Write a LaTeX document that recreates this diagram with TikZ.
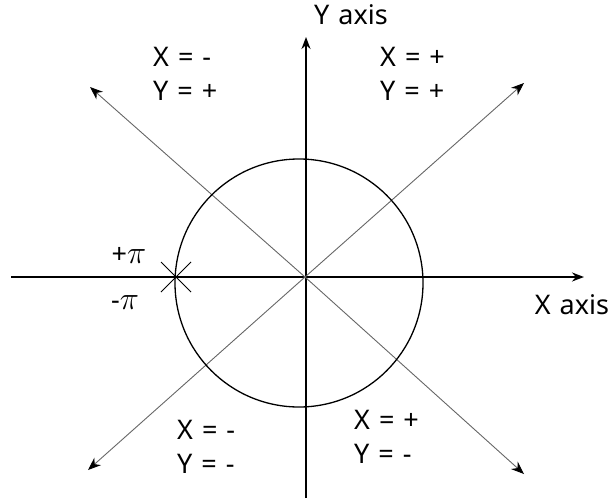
\documentclass[tikz,border=0pt]{standalone}
\usepackage{fontspec}
\setmainfont{Noto Sans}
\usetikzlibrary{arrows.meta,positioning,calc}

\begin{document}
\begin{tikzpicture}[x=1pt,y=-1pt,
    axis/.style={line width=1.8pt,-{Stealth[length=12pt,width=9pt]}},
    diag/.style={gray!80!black,line width=0.9pt,-{Stealth[length=13pt,width=10pt,black]}},
    lbl/.style={font=\fontsize{27}{34}\selectfont,inner sep=0pt},
    quad/.style={lbl,align=left,anchor=west},
]
\useasboundingbox (0,0) rectangle (609,500);

% axes
\coordinate (o) at (305,277);
\coordinate (xl) at (11,277);
\coordinate (xr) at (584,277);
\coordinate (yb) at (306,498);
\coordinate (yt) at (306,37);
\draw[axis] (xl) -- (xr);
\draw[axis] (yb) -- (yt);
\node[lbl] (xlab) at (572,305) {X\,\,axis};
\node[lbl] (ylab) at (351,15) {Y\,\,axis};

% diagonals
\coordinate (ul) at (90,87);
\coordinate (ur) at (524,83);
\coordinate (ll) at (88,470);
\coordinate (lr) at (524,474);
\draw[diag] (o) -- (ul);
\draw[diag] (o) -- (ur);
\draw[diag] (o) -- (ll);
\draw[diag] (o) -- (lr);

% circle
\coordinate (c) at (299,283);
\draw[line width=1.3pt] (c) circle (124);

% cut at pi
\coordinate (pi) at (176,277);
\draw[line width=0.9pt] ($(pi)+(-15,-15)$) -- ($(pi)+(15,15)$);
\draw[line width=0.9pt] ($(pi)+(-15,15)$) -- ($(pi)+(15,-15)$);
\node[lbl] (ppi) at (129,255) {+\scalebox{1.3}{$\pi$}};
\node[lbl] (mpi) at (125,303) {-\scalebox{1.3}{$\pi$}};

% quadrant signs
\node[quad] (q2) at (153,74) {X\,\,=\,\,-\\Y\,\,=\,\,+};
\node[quad] (q1) at (380,74) {X\,\,=\,\,+\\Y\,\,=\,\,+};
\node[quad] (q3) at (177,447) {X\,\,=\,\,-\\Y\,\,=\,\,-};
\node[quad] (q4) at (354,437) {X\,\,=\,\,+\\Y\,\,=\,\,-};
\end{tikzpicture}
\end{document}
